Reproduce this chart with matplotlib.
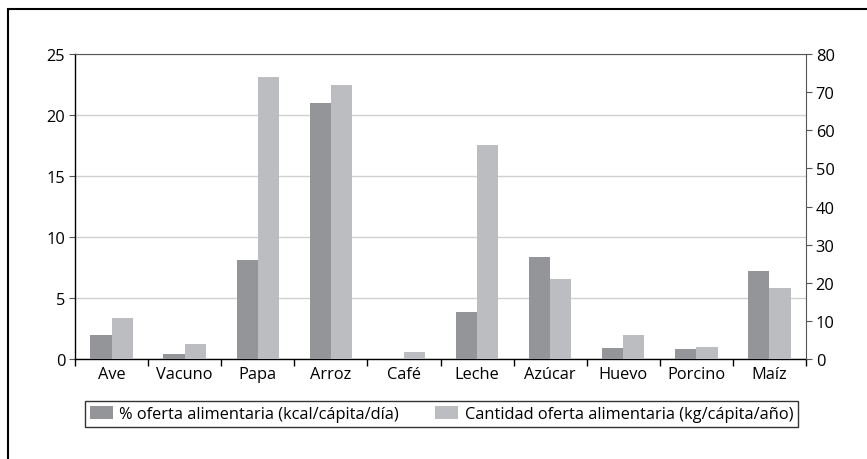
import numpy as np
import matplotlib
matplotlib.use("Agg")
import matplotlib.pyplot as plt
from matplotlib.patches import Rectangle

plt.rcParams['font.family'] = ['Open Sans', 'DejaVu Sans']

categorias = ['Ave', 'Vacuno', 'Papa', 'Arroz', 'Café', 'Leche',
              'Azúcar', 'Huevo', 'Porcino', 'Maíz']
pct_kcal = [2.0, 0.45, 8.1, 21.0, 0.0, 3.85, 8.4, 0.88, 0.82, 7.2]
kg_anio = [10.8, 3.9, 74.0, 71.9, 1.8, 56.1, 21.1, 6.3, 3.2, 18.5]

c_oscuro = '#939598'
c_claro = '#bcbdc0'
fs = 11.8

fig = plt.figure(figsize=(8.67, 4.6), dpi=100)
ax = fig.add_axes([75/867, 1 - 360/460, (806-75)/867, (360-55)/460])
ax2 = ax.twinx()

x = np.arange(len(categorias))
w = 0.29
b1 = ax.bar(x - w/2, pct_kcal, w, color=c_oscuro, zorder=3)
b2 = ax2.bar(x + w/2, kg_anio, w, color=c_claro, zorder=3)

ax.set_xlim(-0.5, len(categorias) - 0.5)
ax.set_ylim(0, 25)
ax.set_yticks(range(0, 26, 5))
ax2.set_ylim(0, 80)
ax2.set_yticks(range(0, 81, 10))

ax.set_xticks(x)
ax.set_xticklabels(categorias)
ax.tick_params(axis='x', length=0, labelsize=fs, pad=5)
ax.set_xticks(np.arange(-0.5, len(categorias), 1), minor=True)
ax.tick_params(axis='x', which='minor', length=5, direction='out', width=1)

ax.tick_params(axis='y', labelsize=fs, length=4, width=0.8, color='#555555', pad=3)
ax2.tick_params(axis='y', labelsize=fs, length=4, width=0.8, color='#555555', pad=3)

ax.grid(axis='y', color='#d0d0d0', linewidth=1, zorder=0)
ax.set_axisbelow(True)

for s in ['left', 'bottom']:
    ax.spines[s].set_color('black')
    ax.spines[s].set_linewidth(1)
ax.spines['top'].set_color('#555555')
ax.spines['right'].set_visible(False)
for s in ['left', 'bottom', 'top']:
    ax2.spines[s].set_visible(False)
ax2.spines['right'].set_color('#555555')

fig.legend([b1, b2],
           ['% oferta alimentaria (kcal/cápita/día)',
            'Cantidad oferta alimentaria (kg/cápita/año)'],
           loc='center', bbox_to_anchor=((77 + 806) / 2 / 867, 1 - 415/460),
           ncol=2, fontsize=fs, frameon=True, fancybox=False,
           edgecolor='black', handlelength=1.4, handleheight=0.8,
           borderpad=0.3, columnspacing=2.2, handletextpad=0.4)

fig.patches.append(Rectangle((8/867, -0.1), 1.2, 1 - 10/460 + 0.1,
                             transform=fig.transFigure, fill=False,
                             edgecolor='black', linewidth=1.5))

fig.savefig('out.png', dpi=100)
